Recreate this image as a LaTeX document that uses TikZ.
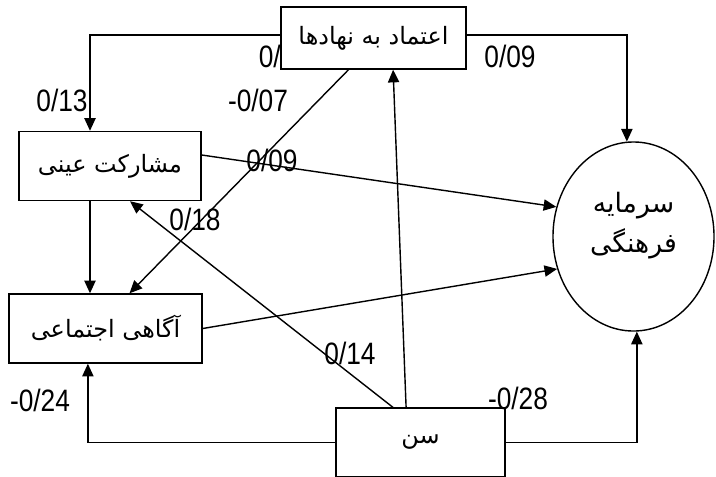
\documentclass[tikz,border=0pt]{standalone}
\usepackage{fontspec}
\newfontfamily\arabicfont[Script=Arabic]{DejaVu Sans}
\newfontfamily\numfont[FakeStretch=0.85]{Liberation Sans}
\usetikzlibrary{arrows.meta,shapes.geometric}
\tikzset{
	box/.style={draw, line width=1pt, minimum height=1.725cm, inner sep=0pt, font=\arabicfont\fontsize{17}{20}\selectfont},
	oval/.style={ellipse, draw, line width=1pt, minimum width=4.025cm, minimum height=4.725cm, inner sep=0pt, align=center, font=\arabicfont\fontsize{19}{29}\selectfont},
	arr/.style={line width=1pt, -{Triangle[length=9pt,width=8pt]}},
	coef/.style={font=\numfont\fontsize{22}{24}\selectfont, inner sep=0pt},
}

\begin{document}
\begin{tikzpicture}[x=0.025cm, y=-0.025cm]
			%%%%% START %%%%%
			\useasboundingbox (0, 0) rectangle (716, 476);
			
			\node[coef, anchor=east] (c0) at (281, 56) {0/};
			\node[coef] (c1) at (62, 100) {0/13};
			\node[coef] (c2) at (258, 100) {-0/07};
			\node[coef] (c3) at (510, 56) {0/09};
			\node[coef] (c4) at (272, 160) {0/09};
			\node[coef] (c5) at (195, 219) {0/18};
			\node[coef] (c6) at (350, 353) {0/14};
			\node[coef] (c7) at (40, 400) {-0/24};
			\node[coef] (c8) at (518, 398) {-0/28};
			
			\node[box, minimum width=4.625cm, minimum height=1.55cm] (trust) at (373.5, 38) {اعتماد\char"A0به\char"A0نهادها};
			\node[box, minimum width=4.55cm] (particip) at (110, 166) {مشارکت\char"A0عینی};
			\node[box, minimum width=4.825cm] (aware) at (105.5, 328.5) {آگاهی\char"A0اجتماعی};
			\node[box, minimum width=4.225cm] (age) at (420.5, 442.5) {سن};
			\node[oval] (capital) at (633.5, 236.5) {سرمایه\\فرهنگی\rule[-20pt]{0pt}{0pt}};
			
			\draw[arr] ([yshift=0.075cm]trust.west) -| ([xshift=-0.5cm]particip.north);
			\draw[arr] ([yshift=0.075cm]trust.east) -| (capital.94);
			\draw[arr] ([xshift=-0.625cm]trust.south) -- ([xshift=0.6cm]aware.north);
			
			\draw[arr] ([yshift=0.275cm]particip.east) -- (capital.159);
			\draw[arr] ([xshift=-0.5cm]particip.south) -- ([xshift=-0.5cm]particip.south |- aware.north);
			\draw[arr] (aware.east) -- (capital.203);
			
			\draw[arr] ([xshift=-0.69cm]age.north) -- ([xshift=0.5cm]particip.south);
			\draw[arr] ([xshift=-0.36cm]age.north) -- ([xshift=0.49cm]trust.south);
			\draw[arr] (age.west) -| ([xshift=-0.44cm]aware.south);
			\draw[arr] (age.east) -| (capital.-88);
			
			%%%%% END %%%%%
\end{tikzpicture}
\end{document}
